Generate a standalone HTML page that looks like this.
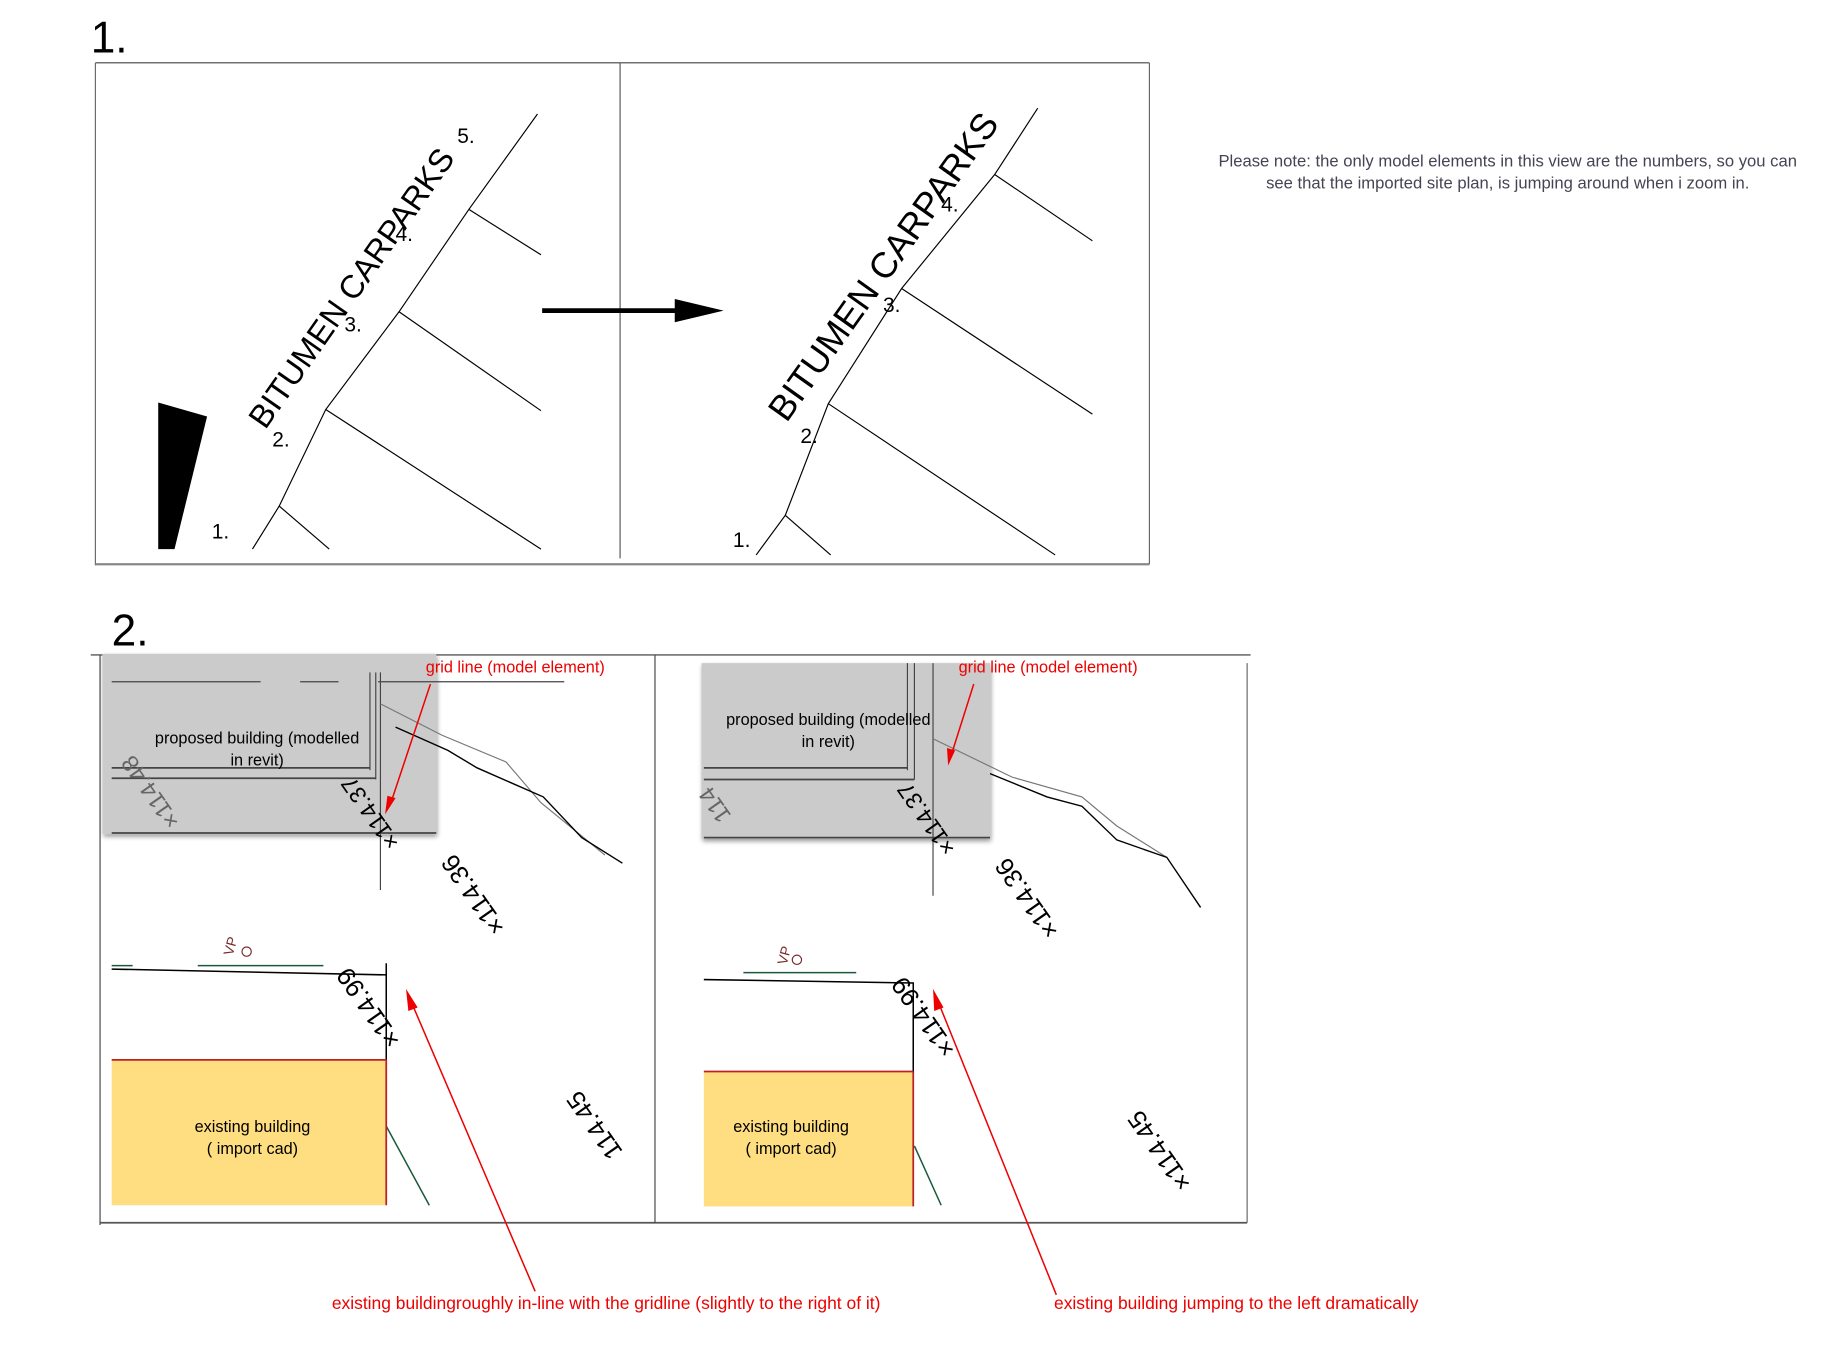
<!DOCTYPE html>
<html><head><meta charset="utf-8"><style>
html,body{margin:0;padding:0;background:#fff;}
svg{display:block;}
text{font-family:"Liberation Sans",sans-serif;}
</style></head><body>
<svg width="1823" height="1364" viewBox="0 0 1567 1172" preserveAspectRatio="xMinYMin meet" xmlns="http://www.w3.org/2000/svg">
<defs>
<filter id="sh" x="-5%" y="-5%" width="115%" height="115%"><feGaussianBlur in="SourceAlpha" stdDeviation="2"/><feOffset dx="1" dy="2"/><feComponentTransfer><feFuncA type="linear" slope="0.4"/></feComponentTransfer><feMerge><feMergeNode/><feMergeNode in="SourceGraphic"/></feMerge></filter>
</defs>
<!-- Section 1 -->
<text x="78" y="45" font-size="38">1.</text>
<line x1="82" y1="54" x2="988" y2="54" stroke="#444" stroke-width="1"/>
<line x1="82" y1="54" x2="82" y2="486" stroke="#666" stroke-width="1"/>
<line x1="82" y1="485" x2="988" y2="485" stroke="#888" stroke-width="2"/>
<line x1="988" y1="54" x2="988" y2="485" stroke="#666" stroke-width="1"/>
<line x1="533" y1="54" x2="533" y2="480" stroke="#555" stroke-width="1"/>
<g stroke="#000" stroke-width="1" fill="none">
<polyline points="217,472 240,435 280,352 343,268 403,180 462,98"/>
<line x1="240" y1="435" x2="283" y2="472"/>
<line x1="280" y1="352" x2="465" y2="472"/>
<line x1="343" y1="268" x2="465" y2="353"/>
<line x1="403" y1="180" x2="465" y2="219"/>
<polyline points="650,477 675,443 712,347 775,248 855,150 892,93"/>
<line x1="675" y1="443" x2="714" y2="477"/>
<line x1="712" y1="347" x2="907" y2="477"/>
<line x1="775" y1="248" x2="939" y2="356"/>
<line x1="855" y1="150" x2="939" y2="207"/>
</g>
<polygon points="136,346 178,358 150,472 136,472" fill="#000"/>
<text transform="translate(228,370) rotate(-55)" font-size="28">BITUMEN CARPARKS</text>
<text transform="translate(676,364) rotate(-54.5)" font-size="31">BITUMEN CARPARKS</text>
<g font-size="18">
<text x="182" y="463">1.</text><text x="234" y="384">2.</text><text x="296" y="285">3.</text><text x="340" y="207">4.</text><text x="393" y="123">5.</text>
<text x="630" y="470">1.</text><text x="688" y="381">2.</text><text x="759" y="268">3.</text><text x="809" y="182">4.</text>
</g>
<line x1="466" y1="267" x2="582" y2="267" stroke="#000" stroke-width="4"/>
<polygon points="580,257 622,267 580,277" fill="#000"/>
<g font-size="14.3" fill="#445" text-anchor="middle">
<text x="1296" y="143">Please note: the only model elements in this view are the numbers, so you can</text>
<text x="1296" y="162">see that the imported site plan, is jumping around when i zoom in.</text>
</g>

<!-- Section 2 -->
<text x="96" y="555" font-size="38">2.</text>
<line x1="78" y1="563" x2="1075" y2="563" stroke="#333" stroke-width="1"/>
<line x1="86" y1="563" x2="86" y2="1053" stroke="#444" stroke-width="1"/>
<line x1="86" y1="1051" x2="1072" y2="1051" stroke="#555" stroke-width="1.5"/>
<line x1="563" y1="563" x2="563" y2="1051" stroke="#444" stroke-width="1"/>
<line x1="1072" y1="570" x2="1072" y2="1051" stroke="#666" stroke-width="1"/>

<rect x="88" y="562" width="287" height="155" fill="#cbcbcb" filter="url(#sh)"/>
<g stroke="#444" stroke-width="1">
<line x1="96" y1="586" x2="224" y2="586"/><line x1="258" y1="586" x2="291" y2="586"/><line x1="325" y1="586" x2="485" y2="586"/>
<line x1="96" y1="660" x2="318" y2="660" stroke-width="1.5"/><line x1="96" y1="669" x2="323" y2="669" stroke-width="1.5"/>
<line x1="318" y1="578" x2="318" y2="662"/><line x1="323" y1="578" x2="323" y2="670"/><line x1="327" y1="578" x2="327" y2="765"/>
<line x1="96" y1="716" x2="375" y2="716" stroke-width="1.5"/>
</g>
<text x="221" y="639" font-size="14" text-anchor="middle">proposed building (modelled</text>
<text x="221" y="658" font-size="14" text-anchor="middle">in revit)</text>
<polyline points="327,605 380,632 435,655 465,690 520,735" fill="none" stroke="#777" stroke-width="1"/>
<polyline points="340,625 385,645 410,660 467,685 500,720 535,742" fill="none" stroke="#000" stroke-width="1.2"/>
<g font-size="20" text-anchor="middle">
<text transform="translate(135,677) rotate(235)" fill="#666">×114.48</text>
<text transform="translate(324,695) rotate(235)">×114.37</text>
<text transform="translate(413,765) rotate(235)" font-size="22">×114.36</text>
<text transform="translate(323,862) rotate(235)" font-size="22">×114.99</text>
<text transform="translate(517,963) rotate(235)" font-size="22">114.45</text>
</g>
<text x="366" y="578" font-size="14" fill="#e00">grid line (model element)</text>
<line x1="370" y1="588" x2="336" y2="690" stroke="#e00" stroke-width="1.3"/>
<polygon points="331,700 333,684 340,686" fill="#e00"/>

<g stroke="#1a5a3a" stroke-width="1.3">
<line x1="96" y1="830" x2="114" y2="830"/><line x1="170" y1="830" x2="278" y2="830"/>
<line x1="332" y1="968" x2="369" y2="1036"/>
</g>
<polyline points="96,833 332,838 332,828" fill="none" stroke="#000" stroke-width="1.3"/>
<line x1="332" y1="838" x2="332" y2="911" stroke="#000" stroke-width="1.3"/>
<rect x="96" y="911" width="236" height="125" fill="#fede80"/>
<line x1="96" y1="911" x2="332" y2="911" stroke="#b22" stroke-width="1.5"/>
<line x1="332" y1="911" x2="332" y2="1036" stroke="#b22" stroke-width="1.5"/>
<text x="217" y="973" font-size="14" text-anchor="middle">existing building</text>
<text x="217" y="992" font-size="14" text-anchor="middle">( import cad)</text>
<text transform="translate(200,822) rotate(-75)" font-size="12" fill="#7a2a2a">VP</text>
<circle cx="212" cy="818" r="4" fill="none" stroke="#7a2a2a"/>
<line x1="460" y1="1110" x2="353" y2="860" stroke="#e00" stroke-width="1.3"/>
<polygon points="349,850 359,866 351,869" fill="#e00"/>
<text x="521" y="1125" font-size="15" fill="#e00" text-anchor="middle">existing buildingroughly in-line with the gridline (slightly to the right of it)</text>

<rect x="603" y="570" width="248" height="151" fill="#cbcbcb" filter="url(#sh)"/>
<g stroke="#444" stroke-width="1">
<line x1="605" y1="660" x2="780" y2="660" stroke-width="1.5"/><line x1="605" y1="670" x2="786" y2="670" stroke-width="1.5"/>
<line x1="780" y1="570" x2="780" y2="662"/><line x1="786" y1="570" x2="786" y2="670"/><line x1="802" y1="570" x2="802" y2="770"/>
<line x1="605" y1="720" x2="851" y2="720" stroke-width="1.5"/>
</g>
<text x="712" y="623" font-size="14" text-anchor="middle">proposed building (modelled</text>
<text x="712" y="642" font-size="14" text-anchor="middle">in revit)</text>
<polyline points="802,635 870,668 930,685 960,710 1003,737" fill="none" stroke="#777" stroke-width="1"/>
<polyline points="851,665 900,685 930,693 960,722 1003,737 1032,780" fill="none" stroke="#000" stroke-width="1.2"/>
<g font-size="20" text-anchor="middle">
<text transform="translate(620,688) rotate(235)" fill="#666">114</text>
<text transform="translate(802,700) rotate(235)">×114.37</text>
<text transform="translate(889,768) rotate(235)" font-size="22">×114.36</text>
<text transform="translate(800,870) rotate(235)" font-size="22">×114.99</text>
<text transform="translate(1003,985) rotate(235)" font-size="22">×114.45</text>
</g>
<text x="824" y="578" font-size="14" fill="#e00">grid line (model element)</text>
<line x1="837" y1="588" x2="818" y2="648" stroke="#e00" stroke-width="1.3"/>
<polygon points="815,658 814,643 821,645" fill="#e00"/>

<line x1="639" y1="836" x2="736" y2="836" stroke="#1a5a3a" stroke-width="1.3"/>
<line x1="786" y1="985" x2="809" y2="1036" stroke="#1a5a3a" stroke-width="1.3"/>
<polyline points="605,842 785,845 785,921" fill="none" stroke="#000" stroke-width="1.3"/>
<rect x="605" y="921" width="180" height="116" fill="#fede80"/>
<line x1="605" y1="921" x2="785" y2="921" stroke="#b22" stroke-width="1.5"/>
<line x1="785" y1="921" x2="785" y2="1037" stroke="#b22" stroke-width="1.5"/>
<text x="680" y="973" font-size="14" text-anchor="middle">existing building</text>
<text x="680" y="992" font-size="14" text-anchor="middle">( import cad)</text>
<text transform="translate(676,830) rotate(-75)" font-size="12" fill="#7a2a2a">VP</text>
<circle cx="685" cy="825" r="4" fill="none" stroke="#7a2a2a"/>
<line x1="908" y1="1113" x2="806" y2="860" stroke="#e00" stroke-width="1.3"/>
<polygon points="802,850 811,866 803,869" fill="#e00"/>
<text x="906" y="1125" font-size="15" fill="#e00">existing building jumping to the left dramatically</text>
</svg>
</body></html>
